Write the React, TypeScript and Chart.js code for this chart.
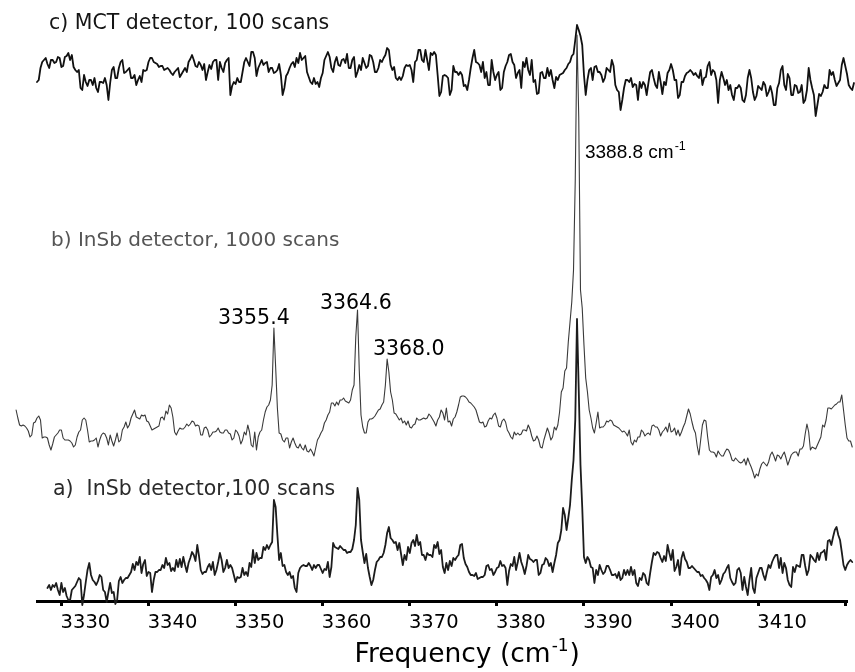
import React, { useEffect, useRef } from "react";
import { Chart, registerables } from "chart.js";

Chart.register(...registerables);

// ---------------- data ----------------
// wavenumber sampling grid (cm-1) of each spectrum
const STEP = 0.2;
const START_A = 3328.4;
const START_B = 3324.8;
const START_C = 3327.2;

// x axis
const X_MIN = 3327.2;
const X_MAX = 3420.2;
const X_TICKS = [3330, 3340, 3350, 3360, 3370, 3380, 3390, 3400, 3410, 3420];
const TICK_LABELS = ["3330", "3340", "3350", "3360", "3370", "3380", "3390", "3400", "3410", ""];

// a) InSb detector, 100 scans (relative absorbance, arb. units)
const SPECTRUM_A = [
  -18, -15, -20, -15, -17, -13, -20, -25, -13, -22, -18, -26, -30, -30, -20, -18, -16, -12, -8, -10,
  -35, -25, -12, 0, 7, -5, -10, -12, -15, -11, -5, -7, -20, -22, -32, -22, -13, -23, -22, -34,
  -30, -11, -7, -13, -10, -8, -8, -5, -2, 6, 0, 8, 5, 13, -3, 6, 10, -6, -2, -3,
  -22, -10, -2, -2, 0, 0, 5, 2, 12, 5, 7, -1, 2, -1, 10, 3, 11, 3, 13, 5,
  -2, 7, 12, 18, 15, 9, 25, 14, 0, -4, -2, -2, 3, 6, 0, 8, -5, 0, 8, 17,
  10, -2, 2, 10, 2, 5, 2, -5, -12, -7, -8, -7, 2, -5, -2, -6, 7, 3, 20, 7,
  17, 10, 12, 12, 23, 20, 25, 21, 25, 28, 70, 63, 35, 10, 17, 4, 5, -2, -5, -2,
  -8, -6, -18, -22, -3, 2, 4, 5, 4, 4, 7, 4, 0, 5, 2, 5, 5, 1, -3, 1,
  0, 8, -7, 3, 27, 23, 22, 21, 24, 22, 20, 20, 17, 18, 18, 21, 30, 45, 82, 70,
  30, 18, 7, 16, 2, -7, -15, -10, 0, 8, 10, 13, 13, 17, 25, 37, 43, 32, 30, 27,
  28, 20, 27, 16, 5, 15, 10, 23, 17, 27, 30, 24, 35, 25, 28, 15, 15, 10, 17, 15,
  15, 13, 25, 22, 28, 16, 20, 3, -3, 7, 0, 9, 4, 12, 10, 13, 15, 25, 26, 12,
  6, 3, -2, -5, -5, -6, -3, -9, -8, -7, -7, -5, 4, 5, 0, 1, -5, -2, 2, 3,
  9, 4, 5, 2, -15, -1, 6, 4, 13, 0, 8, 17, 8, 3, -4, 4, 15, 11, 10, 8,
  10, 10, -5, -3, 5, 6, 12, 10, 4, 7, -2, 7, 15, 27, 30, 40, 62, 55, 40, 52,
  65, 90, 110, 150, 251, 180, 105, 63, 13, 7, 13, 10, 3, 2, -13, 0, -5, 5, 0, -4,
  -2, 4, 4, 0, -5, -5, -4, -8, -2, -10, -8, 0, -5, 0, -5, 3, -5, 0, -13, -16,
  -8, -10, -3, -5, -13, -15, -3, 8, 17, 15, 18, 17, 12, 8, 14, 9, 25, 17, 10, 20,
  -1, 3, 10, -5, 12, 18, 11, 8, 2, 2, 4, 2, 0, -2, -2, -6, -5, -8, -10, -13,
  -20, -7, -5, 0, -8, -5, -14, -10, -4, -2, 2, 5, -8, -12, -15, -13, 0, 2, -3, -20,
  -7, -17, -25, -10, 2, -18, -23, -8, -3, 2, 2, -5, -10, -2, 5, 2, 8, 12, 15, 15,
  2, 12, -3, 7, 2, -10, -15, -17, 3, -2, 5, 4, 3, 15, 15, 4, -5, 0, 15, 13,
  10, 8, 17, 10, 17, 18, 20, 10, 29, 30, 25, 33, 40, 43, 35, 30, 18, 5, 0, 5,
  8, 10, 8,
];

// b) InSb detector, 1000 scans
const SPECTRUM_B = [
  20, 12, 5, 4, 5, 4, 2, -1, -7, -5, 7, 8, 12, 14, 10, -8, -7, -7, -8, -15,
  -20, -14, -7, -5, -3, 0, 0, -8, -10, -10, -10, -11, -13, -17, -15, -7, -2, 0, 10, 12,
  10, 0, -12, -11, -11, -10, -8, -17, -10, -5, -3, -4, -8, -15, -5, -11, -16, -10, -3, -12,
  -10, 0, 3, 8, 2, 5, 12, 16, 20, 13, 12, 11, 15, 14, 15, 9, 8, 4, 0, 1,
  2, 3, 4, 12, 13, 10, 19, 16, 25, 22, 13, -2, -5, -1, 2, 1, 1, 3, 6, 4,
  6, 9, 8, 4, 5, 4, -5, -5, 2, 3, 0, -7, -5, -2, -2, -1, 2, -2, -3, -3,
  0, 0, -3, -4, -10, -8, 0, -2, -6, -14, -10, -2, -5, 5, -2, -15, -17, -2, -20, -7,
  -2, 0, 10, 18, 23, 25, 30, 45, 102, 63, 22, -3, -4, -10, -12, -8, -8, -18, -12, -8,
  -13, -17, -18, -14, -18, -20, -15, -21, -22, -19, -22, -26, -18, -10, -7, -3, 0, 7, 10, 15,
  18, 27, 27, 24, 28, 25, 30, 30, 32, 29, 28, 27, 30, 40, 45, 93, 120, 60, 15, 3,
  -3, -3, 8, 11, 11, 12, 14, 17, 20, 21, 25, 28, 45, 71, 58, 38, 30, 17, 16, 13,
  10, 12, 7, 9, 5, 9, 3, 2, 5, 6, 12, 10, 10, 11, 12, 11, 12, 16, 14, 11,
  8, 4, 10, 13, 20, 17, 10, 22, 8, 9, 4, 11, 13, 18, 25, 33, 34, 34, 33, 31,
  28, 27, 25, 23, 20, 14, 8, 7, 8, 3, 4, 9, 12, 11, 15, 17, 12, 4, 3, 9,
  11, 8, 0, -3, -7, -9, -2, -5, -3, -5, -4, 0, 0, -1, 5, 1, -6, -11, -10, -6,
  -10, -17, -18, -10, -4, 2, -3, -10, -7, 3, 0, 5, 18, 38, 42, 59, 62, 88, 108, 128,
  160, 250, 395, 313, 140, 122, 85, 52, 38, 20, 12, 2, -3, 7, 18, 2, 3, 3, 5, 9,
  8, 10, 9, 5, 4, 3, 2, 0, -2, -1, -3, -6, 0, -12, -15, -10, -12, -7, -7, 0,
  -2, -6, -4, -3, -5, 4, 5, 3, 3, 0, -6, -2, 0, 3, -2, 7, -2, -1, 2, -5,
  0, -6, -2, 3, 7, 14, 21, 16, 8, 1, -3, -16, -25, -10, 5, 10, 9, -7, -20, -22,
  -22, -23, -27, -21, -24, -26, -26, -22, -19, -20, -24, -30, -31, -28, -30, -32, -33, -32, -29, -35,
  -28, -33, -37, -42, -48, -44, -46, -39, -34, -32, -34, -36, -32, -25, -22, -26, -31, -25, -26, -29,
  -25, -22, -28, -35, -30, -25, -23, -22, -22, -26, -19, -19, -16, -4, 6, -2, -20, -17, -18, -19,
  -15, -11, -7, 5, 3, 10, 22, 22, 21, 23, 25, 26, 28, 28, 35, 20, 5, -8, -11, -11,
  -17,
];

// c) MCT detector, 100 scans
const SPECTRUM_C = [
  -7, -5, 7, 13, 15, 17, 11, 7, 15, 15, 12, 13, 18, 17, 8, 9, 18, 19, 22, 15,
  20, 8, 5, 3, 5, -13, -15, 0, -7, -11, -5, -5, -10, -3, -13, -17, -7, -7, -8, -3,
  -10, -25, -8, 5, 8, -3, -3, 7, 13, 15, 2, 3, 5, 7, -3, -3, 0, -10, -5, -1,
  -7, 5, 4, 5, 13, 17, 17, 13, 12, 11, 8, 9, 9, 5, 6, 7, 5, 2, 0, 3,
  5, 7, -2, 1, 4, 7, 3, 13, 16, 20, 15, 9, 8, 13, 10, 5, 11, -5, 3, 10,
  6, 13, 15, 15, -5, 13, 7, 3, 12, 15, 17, -20, -11, -7, -9, -3, -7, -7, 3, 13,
  17, 13, 9, 23, 23, 17, -1, 7, 11, 15, 10, 12, 13, 3, 7, 7, 2, 3, 5, 11,
  0, -20, -13, -1, 2, 7, 11, 13, 8, 17, 12, 22, 15, 17, 19, 3, -2, -7, -9, -3,
  -9, -7, -12, -3, 2, 15, 19, 23, 18, 7, 3, 13, 18, 10, 9, 15, 16, 12, 21, 7,
  7, 15, 18, -2, 3, 10, 5, 17, 12, 7, 9, 20, 19, 13, 3, 3, 7, 15, 13, 17,
  20, 27, 25, 10, 5, 8, -3, -5, -2, -5, -1, 7, 10, 9, 10, 5, -7, 13, 15, 25,
  25, 15, 13, 25, 15, 5, 22, 20, 23, 20, 0, -21, -17, -1, 0, -1, -3, -20, -15, 9,
  3, 3, 0, 3, 0, -11, -10, -15, -5, 7, 17, 25, 13, 12, 10, 3, 13, -3, 3, -10,
  -10, 15, 3, -5, 0, 3, -15, -13, 3, 9, 13, 20, 21, 13, 10, -3, 2, 5, -13, 13,
  8, 17, 5, 0, 15, -7, -5, -19, -18, 2, 3, -3, -3, 7, -1, 5, -5, -13, -2, -5,
  0, 1, 2, 5, 7, 11, 13, 19, 21, 35, 50, 45, 39, 30, 0, -20, -5, 5, 7, -5,
  8, 9, 3, 3, 0, -7, -3, 7, 5, 3, 15, 9, -10, -15, -17, -35, -25, -13, -5, -5,
  -7, -3, -12, -9, -10, -25, -7, -13, -7, -10, -20, -8, 3, 5, -3, -10, -13, 3, -7, -19,
  -7, -10, 2, 5, 11, 5, -5, -5, -23, -20, -7, -7, -1, 2, 3, 5, 3, 0, 2, -1,
  -3, 5, -10, -3, -2, 9, 13, 0, 5, 3, -5, -28, -5, 3, -3, -10, -5, -15, -10, -20,
  -25, -13, -13, -10, -13, -25, -27, -20, -3, 5, -3, -17, -25, -21, -11, -13, -15, -7, -10, -21,
  -17, -11, -18, -30, -30, -13, -8, 5, 9, -10, -15, 1, -3, -20, -20, -10, -11, -18, -17, -10,
  -28, -25, -15, 7, -5, -13, -20, -41, -30, -19, -21, -17, -10, -13, -13, 5, 0, 3, -5, -11,
  -8, -5, 10, 17, 9, 1, -10, -13, -15, -8,
];

// vertical stacking offsets of the three spectra
const OFFSET_A = 31;
const OFFSET_B = 171;
const OFFSET_C = 526;
const Y_MIN = 0;
const Y_MAX = 601;

const SERIES_LABELS = ["a)  InSb detector,100 scans", "b) InSb detector, 1000 scans", "c) MCT detector, 100 scans"];
const PEAK_LABELS = ["3355.4", "3364.6", "3368.0", "3388.8 cm"];
const AXIS_TITLE = "Frequency (cm";

// ---------------- presentation ----------------
const FONT = '"DejaVu Sans", "Liberation Sans", sans-serif';
const FONT_ARIAL = '"Liberation Sans", Arial, sans-serif';

type Note = { text: string; sup?: string; x: number; y: number; size: number; color: string; family?: string };

const NOTES: Note[] = [
  { text: SERIES_LABELS[2], x: 3328.58, y: 572, size: 20.5, color: "#151515" },
  { text: SERIES_LABELS[1], x: 3328.81, y: 355, size: 20, color: "#555555" },
  { text: SERIES_LABELS[0], x: 3329.04, y: 106, size: 20.5, color: "#2a2a2a" },
  { text: PEAK_LABELS[0], x: 3347.98, y: 277, size: 20.5, color: "#000" },
  { text: PEAK_LABELS[1], x: 3359.69, y: 292, size: 20.5, color: "#000" },
  { text: PEAK_LABELS[2], x: 3365.77, y: 246, size: 20.5, color: "#000" },
  { text: PEAK_LABELS[3], sup: "-1", x: 3390.11, y: 443, size: 19, color: "#000", family: FONT_ARIAL },
];

const TITLE_X = 3376.6;

const toPoints = (vals: number[], start: number, offset: number) =>
  vals.map((v, i) => ({ x: Math.round((start + i * STEP) * 10) / 10, y: offset + v }));

const textPlugin = {
  id: "spectraText",
  afterDraw(chart: any) {
    const { ctx } = chart;
    const xs = chart.scales.x;
    const ys = chart.scales.y;
    ctx.save();
    ctx.textAlign = "left";
    ctx.textBaseline = "alphabetic";
    for (const n of NOTES) {
      const fam = n.family || FONT;
      const px = xs.getPixelForValue(n.x);
      const py = ys.getPixelForValue(n.y);
      ctx.font = `${n.size}px ${fam}`;
      ctx.fillStyle = n.color;
      ctx.fillText(n.text, px, py);
      if (n.sup) {
        const w = ctx.measureText(n.text).width;
        ctx.font = `${n.size * 0.66}px ${fam}`;
        ctx.fillText(n.sup, px + w + 1, py - n.size * 0.42);
      }
    }
    // axis title with superscript
    const big = 26.5;
    const small = 17;
    ctx.fillStyle = "#000";
    ctx.font = `${big}px ${FONT}`;
    const w1 = ctx.measureText(AXIS_TITLE).width;
    const w3 = ctx.measureText(")").width;
    ctx.font = `${small}px ${FONT}`;
    const w2 = ctx.measureText("-1").width;
    const total = w1 + 1 + w2 + 1 + w3;
    const cx = xs.getPixelForValue(TITLE_X);
    const by = xs.bottom - 10;
    let sx = cx - total / 2;
    ctx.font = `${big}px ${FONT}`;
    ctx.fillText(AXIS_TITLE, sx, by);
    sx += w1 + 1;
    ctx.font = `${small}px ${FONT}`;
    ctx.fillText("-1", sx, by - 11);
    sx += w2 + 1;
    ctx.font = `${big}px ${FONT}`;
    ctx.fillText(")", sx, by);
    ctx.restore();
  },
};

export default function App() {
  const ref = useRef<HTMLCanvasElement | null>(null);

  useEffect(() => {
    if (!ref.current) return;
    const lineCommon = {
      pointRadius: 0,
      tension: 0,
      clip: false as any,
      fill: false,
      borderJoinStyle: "round" as const,
      borderCapStyle: "round" as const,
    };
    const chart = new Chart(ref.current, {
      type: "line",
      data: {
        datasets: [
          { label: SERIES_LABELS[2], data: toPoints(SPECTRUM_C, START_C, OFFSET_C), borderColor: "#111111", borderWidth: 1.8, ...lineCommon },
          { label: SERIES_LABELS[1], data: toPoints(SPECTRUM_B, START_B, OFFSET_B), borderColor: "#3a3a3a", borderWidth: 1.1, ...lineCommon },
          { label: SERIES_LABELS[0], data: toPoints(SPECTRUM_A, START_A, OFFSET_A), borderColor: "#1c1c1c", borderWidth: 1.8, ...lineCommon },
        ],
      },
      options: {
        responsive: false,
        animation: false,
        layout: { padding: { left: 37, right: 8, top: 0, bottom: 0 } },
        plugins: { legend: { display: false }, tooltip: { enabled: false }, title: { display: false } },
        scales: {
          x: {
            type: "linear",
            position: "bottom",
            bounds: "data",
            afterDataLimits: (s: any) => {
              s.min = X_MIN;
              s.max = X_MAX;
            },
            afterBuildTicks: (s: any) => {
              s.ticks = X_TICKS.map((v) => ({ value: v }));
            },
            afterFit: (s: any) => {
              s.height = 71;
            },
            grid: { drawOnChartArea: false, drawTicks: true, tickLength: 5, tickWidth: 3, tickColor: "#000" },
            border: { display: true, color: "#000", width: 3 },
            ticks: {
              autoSkip: false,
              maxRotation: 0,
              minRotation: 0,
              padding: 5,
              labelOffset: 24,
              color: "#000",
              font: { family: FONT, size: 19.5 },
              callback: (_v: any, i: number) => TICK_LABELS[i],
            },
            title: { display: false },
          },
          y: { type: "linear", display: false, min: Y_MIN, max: Y_MAX },
        },
      },
      plugins: [textPlugin],
    } as any);
    return () => chart.destroy();
  }, []);

  return (
    <div style={{ position: "absolute", left: 0, top: 0, width: 855, height: 672, background: "#fff" }}>
      <canvas ref={ref} width={855} height={672} style={{ display: "block" }} />
    </div>
  );
}
